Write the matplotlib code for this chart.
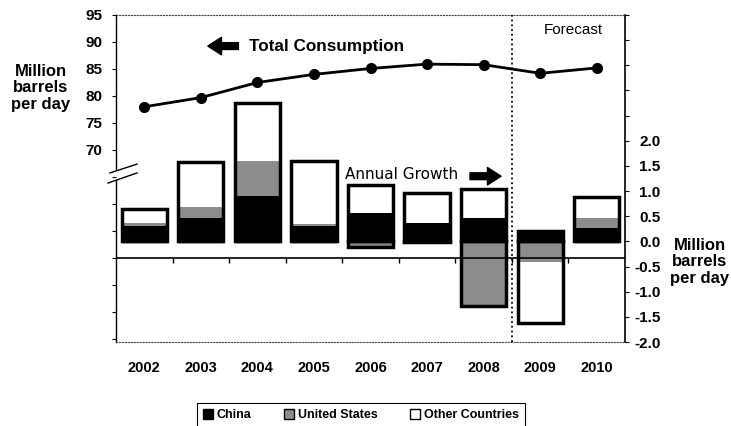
import numpy as np
import matplotlib
matplotlib.use("Agg")
import matplotlib.pyplot as plt
from matplotlib.patches import Patch, Polygon

plt.rcParams['font.family'] = ['Liberation Sans', 'DejaVu Sans']

# data
years = ['2002', '2003', '2004', '2005', '2006', '2007', '2008', '2009', '2010']
total = [78.0, 79.7, 82.5, 84.0, 85.1, 85.9, 85.8, 84.2, 85.2]   # million b/d
china = [0.30, 0.46, 0.90, 0.30, 0.56, 0.36, 0.46, 0.20, 0.26]   # annual growth
us = [0.06, 0.22, 0.70, 0.04, -0.12, -0.02, -1.28, -0.40, 0.20]
other = [0.29, 0.90, 1.15, 1.26, 0.56, 0.60, 0.58, -1.22, 0.42]

fig = plt.figure(figsize=(7.31, 4.26), dpi=100)
ax = fig.add_axes([116/731, 1-342/426, 509/731, 327/426])  # growth axis (right)
ax2 = ax.twinx()                                            # consumption axis (left)

x = np.arange(len(years))
w = 0.8
pos = np.zeros(len(x))
neg = np.zeros(len(x))
for vals, col in [(china, 'black'), (us, '#8c8c8c'), (other, 'white')]:
    v = np.array(vals)
    bottom = np.where(v >= 0, pos, neg)
    ax.bar(x, v, w, bottom=bottom, color=col, edgecolor='none', zorder=2)
    pos += np.where(v >= 0, v, 0)
    neg += np.where(v < 0, v, 0)
# heavy outlines round the stacks
ax.bar(x, pos, w, fill=False, edgecolor='black', lw=2.5, zorder=3)
ax.bar(x, neg, w, fill=False, edgecolor='black', lw=2.5, zorder=3)

ax.set_xlim(-0.5, 8.5)
ax.set_ylim(-2.0, 4.48)
ax.yaxis.tick_right()
rt = np.arange(-2.0, 4.51, 0.5)
ax.set_yticks(rt)
ax.set_yticklabels([f'{v:.1f}' if v <= 2.0 else '' for v in rt],
                   fontsize=11, fontweight='bold')
for lab in ax.get_yticklabels():
    lab.set_horizontalalignment('right')
ax.tick_params(axis='y', direction='out', length=3, pad=22.5, width=0.8)
ax.set_xticks(x, years, fontsize=10.5, fontweight='bold')
ax.tick_params(axis='x', length=0, pad=14)

ax.spines['top'].set_linestyle(':')
ax.spines['bottom'].set_linestyle(':')
ax.spines['top'].set_color('#444444')
ax.spines['bottom'].set_color('#444444')
ax.spines['left'].set_linewidth(1.0)
ax.spines['right'].set_linewidth(1.2)
for s in ax2.spines.values():
    s.set_visible(False)

# consumption line
ax2.plot(x, total, color='black', lw=2, marker='o', ms=7, zorder=5)
ax2.set_ylim(34.44, 95)
ax2.yaxis.tick_left()
lt = np.arange(35, 96, 5)
ax2.set_yticks(lt)
ax2.set_yticklabels([str(v) if v >= 70 else '' for v in lt],
                    fontsize=11, fontweight='bold')
ax2.tick_params(axis='y', direction='out', length=3, pad=7, width=0.8)

# category axis of the growth chart sits at 50 on the left scale
ax2.axhline(50, color='black', lw=1.2, zorder=6)
ax2.vlines(np.arange(0.5, 8.5, 1), 49.1, 50, color='black', lw=1, zorder=6)

# forecast divider
ax.axvline(6.5, color='black', ls=':', lw=1.3, zorder=4)

# axis break marks on the left spine
tr = ax.transAxes
ax.add_patch(Polygon([(-0.0157, 0.486), (0.0413, 0.517), (0.0413, 0.544), (-0.0118, 0.517)],
                     closed=True, fc='white', ec='none', transform=tr, clip_on=False, zorder=7))
ax.plot([-0.0118, 0.0413], [0.517, 0.544], color='black', lw=1, transform=tr, clip_on=False, zorder=8)
ax.plot([-0.0157, 0.0413], [0.486, 0.517], color='black', lw=1, transform=tr, clip_on=False, zorder=8)

# annotations
ax.text(0.261, 0.905, 'Total Consumption', transform=tr, fontsize=12.3, fontweight='bold',
        ha='left', va='center')
ax.annotate('', xy=(0.175, 0.905), xytext=(0.246, 0.905), xycoords=tr, textcoords=tr,
            arrowprops=dict(arrowstyle='simple,head_length=0.7,head_width=0.9,tail_width=0.35',
                            fc='black', ec='black', mutation_scale=14))
ax.text(0.45, 0.511, 'Annual Growth', transform=tr, fontsize=11, family='DejaVu Sans',
        ha='left', va='center')
ax.annotate('', xy=(0.762, 0.507), xytext=(0.69, 0.507), xycoords=tr, textcoords=tr,
            arrowprops=dict(arrowstyle='simple,head_length=0.7,head_width=0.9,tail_width=0.35',
                            fc='black', ec='black', mutation_scale=14))
ax.text(0.898, 0.954, 'Forecast', transform=tr, fontsize=11, ha='center', va='center')

fig.text(41/731, 1-88/426, 'Million\nbarrels\nper day', ha='center', va='center',
         fontsize=12, fontweight='bold', linespacing=1.1)
fig.text(700/731, 1-262/426, 'Million\nbarrels\nper day', ha='center', va='center',
         fontsize=12, fontweight='bold', linespacing=1.1)

handles = [Patch(fc='black', ec='black'), Patch(fc='#8c8c8c', ec='black'),
           Patch(fc='white', ec='black')]
leg = fig.legend(handles, ['China', 'United States', 'Other Countries'],
                 loc='upper center', bbox_to_anchor=(361/731, 1-403/426), ncol=3,
                 fancybox=False, edgecolor='black', framealpha=1,
                 prop={'size': 9, 'weight': 'bold'}, handlelength=0.8, handleheight=0.8,
                 handletextpad=0.3, columnspacing=2.6, borderpad=0.5, borderaxespad=0)
leg.get_frame().set_linewidth(0.8)

fig.savefig('out.png', dpi=100)
